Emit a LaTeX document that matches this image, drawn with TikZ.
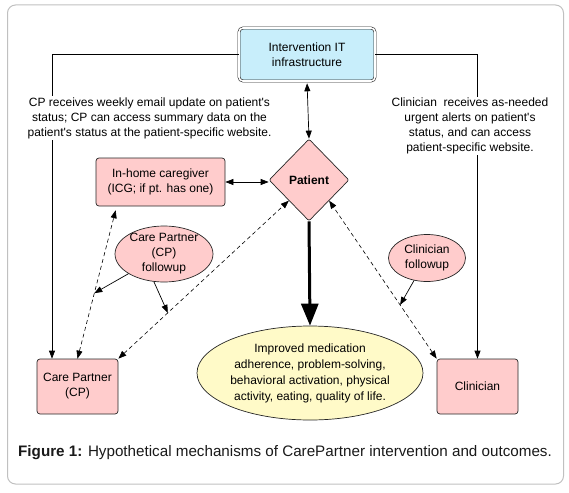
\documentclass[tikz,border=0pt]{standalone}
\usepackage{fontspec}
\setmainfont{Liberation Sans}[Ligatures=TeXOff]
\usepackage{xcolor}
\usetikzlibrary{arrows.meta,shapes.geometric}
\definecolor{boxpink}{RGB}{255,204,204}
\definecolor{itblue}{RGB}{200,238,251}
\definecolor{outyellow}{RGB}{255,250,200}
\definecolor{framegray}{RGB}{192,192,192}

\begin{document}
\begin{tikzpicture}[x=1pt,y=1pt,yscale=-1,xscale=1,
    every node/.style={font=\fontsize{12}{15}\selectfont, align=center},
    pinkbox/.style={draw=black!85, fill=boxpink, rounded corners=3pt, line width=0.7pt, inner sep=0pt},
    pinkoval/.style={ellipse, draw=black!85, fill=boxpink, line width=0.7pt, inner xsep=0pt, inner ysep=-5pt},
    sidetext/.style={fill=white, inner sep=1pt},
    solidarr/.style={-{Stealth[length=8pt,width=6pt,inset=0pt]}, line width=0.7pt},
    twoway/.style={{Stealth[length=8pt,width=6pt,inset=0pt]}-{Stealth[length=8pt,width=6pt,inset=0pt]}, line width=0.7pt},
    dasharr/.style={twoway, line width=0.6pt, dash pattern=on 4pt off 3pt}]
    \useasboundingbox (0,0) rectangle (569,492);
    
    %Shape: Rounded Rect [frame]
    \draw [color=framegray, line width=1pt, rounded corners=8pt] (7.5,5) rectangle (563.5,484);
    
    %Shape: Rectangle [id:it]
    \node [draw=black!85, line width=0.6pt, double, double distance=1.6pt, fill=itblue, rounded corners=4pt, minimum width=136pt, minimum height=53pt, inner sep=0pt] (it) at (307,54.5) {Intervention IT\\infrastructure};
    %Shape: Rectangle [id:icg]
    \node [pinkbox, minimum width=129pt, minimum height=48pt] (icg) at (160.5,182) {In-home caregiver\\(ICG; if pt. has one)};
    %Shape: Diamond [id:pat]
    \node [diamond, draw=black!85, fill=boxpink, line width=0.7pt, rounded corners=2pt, minimum width=80pt, minimum height=82pt, inner sep=0pt, font=\fontsize{12}{15}\selectfont\bfseries] (pat) at (309,180) {Patient};
    %Shape: Ellipse [id:cpf]
    \node [pinkoval, minimum width=98pt, minimum height=56pt] (cpf) at (164,254) {Care Partner\\(CP)\\followup};
    %Shape: Ellipse [id:clf]
    \node [pinkoval, minimum width=77pt, minimum height=47pt] (clf) at (427,258) {Clinician\\followup};
    %Shape: Ellipse [id:out]
    \node [ellipse, draw=black!85, fill=outyellow, line width=0.7pt, minimum width=226pt, minimum height=94pt, inner sep=-4pt, font=\fontsize{12}{16}\selectfont] (out) at (310,373) {Improved medication\\adherence, problem-solving,\\behavioral activation, physical\\activity, eating, quality of life.};
    %Shape: Rectangle [id:cp]
    \node [pinkbox, minimum width=81pt, minimum height=55pt] (cp) at (77.5,386.5) {Care Partner\\(CP)};
    %Shape: Rectangle [id:clin]
    \node [pinkbox, minimum width=81pt, minimum height=55pt] (clin) at (477.5,386.5) {Clinician};
    
    %Straight Lines
    \draw [solidarr] (it.west) -| ([xshift=-25.5pt]cp.north);
    \draw [solidarr] (it.east) -| (clin.north);
    \draw [twoway, shorten <=2pt] (it.south) -- (pat.north);
    \draw [twoway] (icg.east) -- (icg.east -| pat.west);
    \draw [line width=3pt, -{Stealth[length=22pt,width=17pt,inset=0pt]}] (pat.south) -- (out.north);
    %Dashed Lines
    \draw [dasharr, shorten >=4pt] (cp.north) -- coordinate[pos=0.43] (cpdash) ([xshift=21pt]icg.south west);
    \draw [dasharr] (cp.north east) -- coordinate[pos=0.29] (patdash) (pat.south west);
    \draw [dasharr] (clin.north west) -- coordinate[pos=0.34] (clindash) (pat.south east);
    %Followup Arrows
    \draw [solidarr] (cpf.209) -- (cpdash);
    \draw [solidarr] (cpf.250) -- (patdash);
    \draw [solidarr] (clf.240) -- (clindash);
    
    % Text Node
    \node [sidetext] (cptext) at (149.5,118) {CP receives weekly email update on patient's\\status; CP can access summary data on the\\patient's status at the patient-specific website.};
    % Text Node
    \node [sidetext] (clintext) at (470,126) {Clinician\ \ receives as-needed\\urgent alerts on patient's\\status, and can access\\patient-specific website.};
    % Text Node
    \node [anchor=base west, inner sep=0pt, text=black!90, font=\fontsize{15.2}{17}\selectfont] (caption) at (18,456.5) {\textbf{Figure 1:} Hypothetical mechanisms of CarePartner intervention and outcomes.};
\end{tikzpicture}
\end{document}
